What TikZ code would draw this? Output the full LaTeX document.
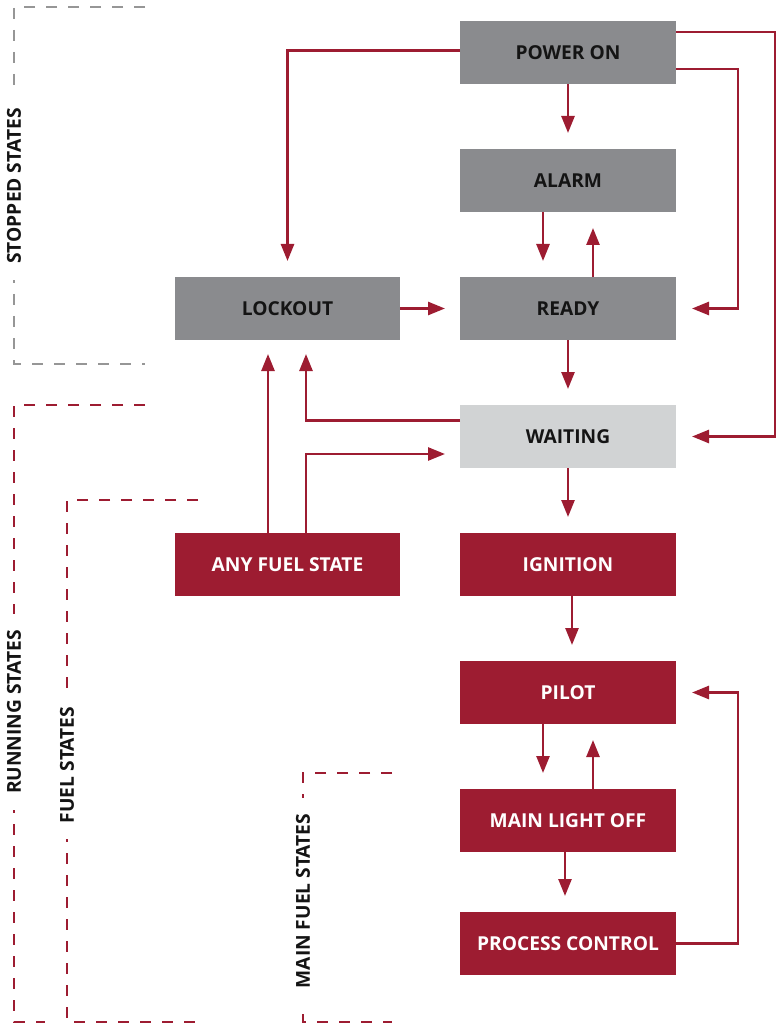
\documentclass[tikz,border=0pt]{standalone}
\usepackage{fontspec}
\setmainfont{Open Sans}
\usepackage{tikz}
\usetikzlibrary{positioning,arrows.meta,calc}
\definecolor{burnerred}{RGB}{157,28,49}
\definecolor{stopgray}{RGB}{138,139,142}
\definecolor{waitgray}{RGB}{209,211,212}
\definecolor{dashgray}{RGB}{150,150,150}
\definecolor{textblack}{RGB}{20,20,20}
\tikzset{
  state-node/.style={minimum width=108pt, minimum height=31.5pt, inner sep=0pt, outer sep=0pt,
    font=\fontsize{9.6}{11}\selectfont\bfseries, align=center},
  stopped-node/.style={state-node, fill=stopgray, text=textblack},
  waiting-node/.style={state-node, fill=waitgray, text=textblack},
  fuel-node/.style={state-node, fill=burnerred, text=white},
  flow-arrow/.style={-{Triangle[length=8.5pt, width=6.5pt]}, line width=1.3pt, draw=burnerred},
  group-line/.style={dash pattern=on 5.5pt off 5.5pt, line width=1.3pt},
  group-label/.style={rotate=90, fill=white, text=textblack, inner xsep=8pt, inner ysep=1pt,
    font=\fontsize{9.6}{11}\selectfont\bfseries}
}

\begin{document}
\begin{tikzpicture}[x=0.5pt, y=-0.5pt]
\useasboundingbox (0,0) rectangle (778,1026);

% Main column of states
\node[stopped-node] (power) at (568,52.5) {POWER ON};
\node[stopped-node, below=32.5pt of power] (alarm) {ALARM};
\node[stopped-node, below=32.5pt of alarm] (ready) {READY};
\node[waiting-node, below=32.5pt of ready] (waiting) {WAITING};
\node[fuel-node, below=32.5pt of waiting] (ignition) {IGNITION};
\node[fuel-node, below=32.5pt of ignition] (pilot) {PILOT};
\node[fuel-node, below=32.5pt of pilot] (mainlight) {MAIN LIGHT OFF};
\node[fuel-node, below=30pt of mainlight] (process) {PROCESS CONTROL};

% Side states
\node[stopped-node, left=30pt of ready, minimum width=112.5pt] (lockout) {LOCKOUT};
\node[fuel-node, left=30pt of ignition, minimum width=112.5pt] (anyfuel) {ANY FUEL STATE};

% Straight transitions down the column
\draw[flow-arrow, shorten >=8pt] (power) -- (alarm);
\draw[flow-arrow, shorten >=8pt] ([xshift=-12.5pt]alarm.south) -- ([xshift=-12.5pt]ready.north);
\draw[flow-arrow, shorten >=8pt] ([xshift=12.5pt]ready.north) -- ([xshift=12.5pt]alarm.south);
\draw[flow-arrow, shorten >=8pt] (ready) -- (waiting);
\draw[flow-arrow, shorten >=8pt] (waiting) -- (ignition);
\draw[flow-arrow, shorten >=8pt] ([xshift=2pt]ignition.south) -- ([xshift=2pt]pilot.north);
\draw[flow-arrow, shorten >=8pt] ([xshift=-12.5pt]pilot.south) -- ([xshift=-12.5pt]mainlight.north);
\draw[flow-arrow, shorten >=8pt] ([xshift=12.5pt]mainlight.north) -- ([xshift=12.5pt]pilot.south);
\draw[flow-arrow, shorten >=8pt] ([xshift=-1.5pt]mainlight.south) -- ([xshift=-1.5pt]process.north);

% Routed transitions
\draw[flow-arrow] ([yshift=1pt]power.west) -| ([yshift=8pt]lockout.north);
\draw[flow-arrow, shorten >=7.5pt] (lockout) -- (ready);
\draw[flow-arrow] ([yshift=10.25pt]power.east) -- ++(99,0) |- ([xshift=8pt]waiting.east);
\draw[flow-arrow] ([yshift=-8.25pt]power.east) -- ++(62,0) |- ([xshift=8pt]ready.east);
\draw[flow-arrow] ([yshift=8pt]waiting.west) -| ([xshift=9.25pt, yshift=-7pt]lockout.south);
\draw[flow-arrow] ([xshift=-9.75pt]anyfuel.north) -- ([xshift=-9.75pt, yshift=-7pt]lockout.south);
\draw[flow-arrow] ([xshift=9.25pt]anyfuel.north) |- ([xshift=-7.5pt, yshift=-8.75pt]waiting.west);
\draw[flow-arrow] (process.east) -- ++(62,0) |- ([xshift=8pt]pilot.east);

% Group brackets
\draw[group-line, dashgray] (145,7) -- (14,7) -- (14,364) -- (145,364);
\draw[group-line, burnerred] (145,405) -- (14,405) -- (14,1022) -- (45,1022);
\draw[group-line, burnerred] (198,500) -- (67,500) -- (67,1022) -- (198,1022);
\draw[group-line, burnerred] (392,773) -- (303,773) -- (303,1022) -- (392,1022);
\node[group-label] (stopped) at (14,186) {STOPPED STATES};
\node[group-label] (running) at (14,712) {RUNNING STATES};
\node[group-label] (fuel) at (67,765) {FUEL STATES};
\node[group-label] (mainfuel) at (303,901) {MAIN FUEL STATES};
\end{tikzpicture}
\end{document}
